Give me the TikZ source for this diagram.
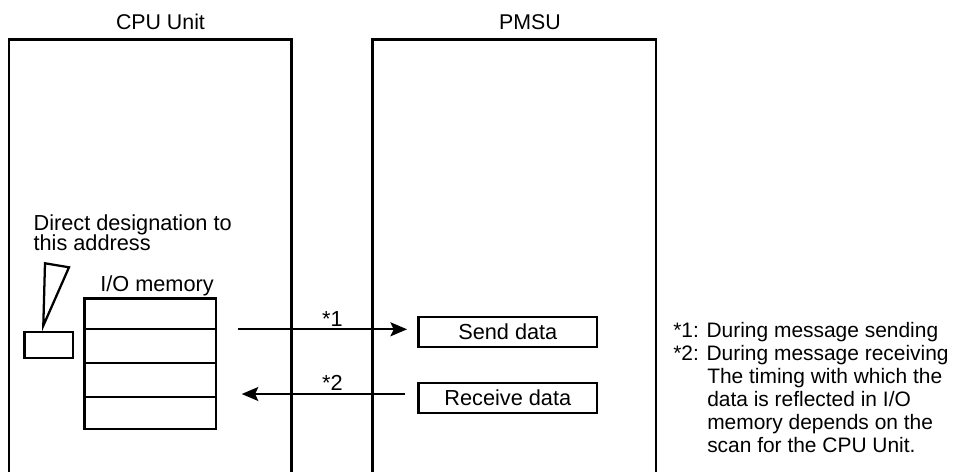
\documentclass[tikz,border=0pt]{standalone}
\usepackage{fontspec}
\setmainfont{Liberation Sans}
\usetikzlibrary{arrows.meta}
\begin{document}
\begin{tikzpicture}[x=0.75pt,y=-0.75pt,
  unitframe/.style={line width=1.9pt, line join=miter},
  title/.style={font=\fontsize{16}{18}\selectfont, anchor=base, inner sep=0pt},
  txt/.style={font=\fontsize{16.3}{18}\selectfont, anchor=base west, inner sep=0pt},
  note/.style={font=\fontsize{15.7}{17}\selectfont, anchor=base west, inner sep=0pt},
  starlbl/.style={font=\fontsize{16.3}{18}\selectfont, anchor=base, inner sep=0pt},
  databox/.style={draw, line width=1.9pt, minimum width=133.7pt, minimum height=22.5pt, inner sep=0pt, font=\fontsize{16.3}{18}\selectfont},
  membox/.style={draw, line width=1.7pt, minimum width=98.8pt, minimum height=97.8pt, inner sep=0pt},
  addrbox/.style={draw, line width=1.7pt, minimum width=36.4pt, minimum height=19.5pt, inner sep=0pt},
  rowline/.style={line width=1.3pt},
  conn/.style={line width=1.5pt, -{Stealth[length=12.5pt,width=10.5pt,inset=2.5pt]}}
]
\useasboundingbox (0,0) rectangle (964,472);

% unit frames (open at the bottom)
\draw[unitframe] (9,472) |- (291.5,39.5) -- (291.5,472);
\draw[unitframe] (372.5,472) |- (656,39.5) -- (656,472);

% titles
\node[title] (cpulbl) at (160.5,29) {CPU Unit};
\node[title] (pmsulbl) at (530,29) {PMSU};

% I/O memory
\node[txt] (dd1) at (33.3,230) {Direct designation to};
\node[txt] (dd2) at (33.3,250) {this address};
\node[txt] (iolbl) at (100,291) {I/O memory};
\node[membox] (io) at (150.3,363.7) {};
\draw[rowline] (io.west |- 0,329) -- (io.east |- 0,329);
\draw[rowline] (io.west |- 0,363.3) -- (io.east |- 0,363.3);
\draw[rowline] (io.west |- 0,396.7) -- (io.east |- 0,396.7);

% address pointer
\node[addrbox] (addr) at (48.7,344.8) {};
\draw[line width=1.7pt, line join=miter] (45,263.3) -- (69,267.3) -- (43.3,325.7) -- cycle;

% PMSU data boxes
\node[databox] (send) at (507.8,332) {Send data};
\node[databox] (recv) at (507.8,398) {Receive data};

% connectors
\coordinate (a1s) at (237.7,329.3);
\coordinate (a2s) at (405,394);
\coordinate (a2e) at (241.7,394);
\draw[conn, shorten >=7.75pt] (a1s) -- (a1s -| send.west);
\draw[conn] (a2s) -- (a2e);
\node[starlbl] (s1) at (332.5,326.7) {*1};
\node[starlbl] (s2) at (332.5,390) {*2};

% notes
\node[note] (n1) at (673,337) {*1: During message sending};
\node[note] (n2) at (673,360) {*2: During message receiving};
\node[note] (n3) at (707,383) {The timing with which the};
\node[note] (n4) at (707,406) {data is reflected in I/O};
\node[note] (n5) at (707,429) {memory depends on the};
\node[note] (n6) at (707,452) {scan for the CPU Unit.};
\end{tikzpicture}
\end{document}
